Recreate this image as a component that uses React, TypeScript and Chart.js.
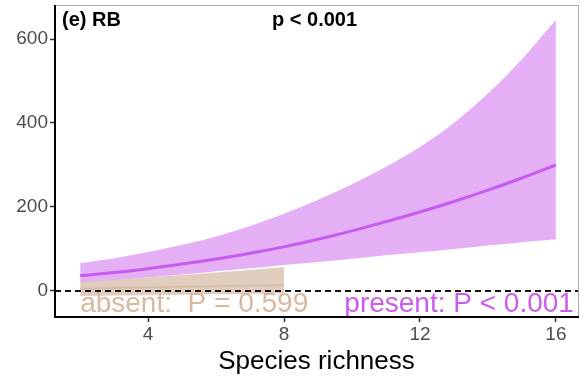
import React, { useEffect, useRef } from "react";
import { Chart, registerables } from "chart.js";
Chart.register(...registerables);

const richness = [2, 3, 4, 5, 6, 7, 8, 9, 10, 11, 12, 13, 14, 15, 16];
const presentMean = [36, 44, 53, 64, 76, 90, 105, 123, 143, 165, 188, 213, 240, 269, 300];
const presentUpper = [66, 78, 93, 110, 130, 155, 184, 217, 254, 296, 343, 400, 470, 552, 645];
const presentLower = [19, 25, 32, 39, 47, 54, 62, 69, 77, 85, 92, 100, 108, 116, 123];

const absentRichness = [2, 3, 4, 5, 6, 7, 8];
const absentMean = [5, 7, 8, 10, 11, 13, 14];
const absentUpper = [21, 26, 32, 38, 44, 50, 57];
const absentLower = [-12, -11, -10, -9, -8, -7, -6];

const xTicks = [4, 8, 12, 16];
const yTicks = [0, 200, 400, 600];

const panelLabel = "(e) RB";
const overallP = "p < 0.001";
const absentLabel = "absent:  P = 0.599";
const presentLabel = "present: P < 0.001";
const xTitle = "Species richness";

const FONT = '"Liberation Sans", Arial, sans-serif';

const PURPLE_FILL = "#E4AFF5";
const PURPLE_LINE = "#C65BEF";
const PURPLE_TEXT = "#CC5CEC";
const TAN_FILL = "#E0CDBE";
const TAN_LINE = "#D6BDA8";
const TAN_TEXT = "#D6B9A0";

const pts = (xs: number[], ys: number[]) => xs.map((x, i) => ({ x, y: ys[i] }));

const overlay = {
  id: "overlay",
  afterDatasetsDraw(chart: any) {
    const { ctx, chartArea, scales } = chart;
    const xs = scales.x;
    const ys = scales.y;
    ctx.save();
    const y0 = ys.getPixelForValue(0);
    ctx.strokeStyle = "#111";
    ctx.lineWidth = 2;
    ctx.setLineDash([6, 4]);
    ctx.beginPath();
    ctx.moveTo(chartArea.left, y0);
    ctx.lineTo(chartArea.right, y0);
    ctx.stroke();
    ctx.setLineDash([]);

    ctx.font = `28px ${FONT}`;
    ctx.textBaseline = "alphabetic";
    ctx.fillStyle = TAN_TEXT;
    ctx.textAlign = "left";
    ctx.fillText(absentLabel, xs.getPixelForValue(2), ys.getPixelForValue(-50));
    ctx.fillStyle = PURPLE_TEXT;
    ctx.textAlign = "right";
    ctx.fillText(presentLabel, xs.getPixelForValue(16.53), ys.getPixelForValue(-50));

    ctx.font = `bold 20px ${FONT}`;
    ctx.fillStyle = "#000";
    ctx.textAlign = "left";
    ctx.fillText(panelLabel, chartArea.left + 7, chartArea.top + 21);
    ctx.fillText(overallP, chartArea.left + 217, chartArea.top + 21);
    ctx.restore();
  },
  afterDraw(chart: any) {
    const { ctx, chartArea } = chart;
    ctx.save();
    ctx.strokeStyle = "#ABABAB";
    ctx.lineWidth = 1;
    ctx.beginPath();
    ctx.moveTo(chartArea.left, chartArea.top + 0.5);
    ctx.lineTo(chartArea.right + 0.5, chartArea.top + 0.5);
    ctx.lineTo(chartArea.right + 0.5, chartArea.bottom);
    ctx.stroke();
    ctx.strokeStyle = "#000";
    ctx.lineWidth = 2;
    ctx.beginPath();
    ctx.moveTo(chartArea.left, chartArea.top);
    ctx.lineTo(chartArea.left, chartArea.bottom);
    ctx.lineTo(chartArea.right + 1, chartArea.bottom);
    ctx.stroke();
    ctx.font = `26px ${FONT}`;
    ctx.fillStyle = "#000";
    ctx.textAlign = "center";
    ctx.textBaseline = "alphabetic";
    ctx.fillText(xTitle, (chartArea.left + chartArea.right) / 2, 369);
    ctx.restore();
  },
};

export default function App() {
  const ref = useRef<HTMLCanvasElement | null>(null);
  useEffect(() => {
    if (!ref.current) return;
    const chart = new Chart(ref.current, {
      type: "line",
      data: {
        datasets: [
          {
            data: pts(richness, presentMean),
            borderColor: PURPLE_LINE,
            borderWidth: 3,
            pointRadius: 0,
            fill: false,
            order: 0,
            cubicInterpolationMode: "monotone",
          },
          {
            data: pts(absentRichness, absentMean),
            borderColor: TAN_LINE,
            borderWidth: 2,
            pointRadius: 0,
            fill: false,
            order: 1,
            cubicInterpolationMode: "monotone",
          },
          {
            data: pts(absentRichness, absentLower),
            borderWidth: 0,
            borderColor: "rgba(0,0,0,0)",
            pointRadius: 0,
            fill: false,
            order: 2,
            cubicInterpolationMode: "monotone",
          },
          {
            data: pts(absentRichness, absentUpper),
            borderWidth: 0,
            borderColor: "rgba(0,0,0,0)",
            backgroundColor: TAN_FILL,
            pointRadius: 0,
            fill: 2,
            order: 2,
            cubicInterpolationMode: "monotone",
          },
          {
            data: pts(richness, presentLower),
            borderWidth: 0,
            borderColor: "rgba(0,0,0,0)",
            pointRadius: 0,
            fill: false,
            order: 3,
            cubicInterpolationMode: "monotone",
          },
          {
            data: pts(richness, presentUpper),
            borderWidth: 0,
            borderColor: "rgba(0,0,0,0)",
            backgroundColor: PURPLE_FILL,
            pointRadius: 0,
            fill: 4,
            order: 3,
            cubicInterpolationMode: "monotone",
          },
        ],
      },
      options: {
        animation: false,
        responsive: false,
        layout: { padding: { top: 5, right: 9, left: 0, bottom: 0 } },
        plugins: { legend: { display: false }, tooltip: { enabled: false } },
        scales: {
          x: {
            type: "linear",
            min: 1.26,
            max: 16.65,
            afterBuildTicks: (s: any) => {
              s.ticks = xTicks.map((v) => ({ value: v }));
            },
            afterFit: (s: any) => {
              s.height = 64;
              s.paddingLeft = 0;
              s.paddingRight = 0;
            },
            grid: { drawOnChartArea: false, drawTicks: true, tickLength: 5, tickColor: "#333", tickWidth: 1.5 },
            border: { display: false },
            ticks: {
              color: "#4D4D4D",
              font: { family: FONT, size: 19 },
              padding: 1,
              maxRotation: 0,
              autoSkip: false,
            },
          },
          y: {
            type: "linear",
            min: -62,
            max: 681,
            afterBuildTicks: (s: any) => {
              s.ticks = yTicks.map((v) => ({ value: v }));
            },
            afterFit: (s: any) => {
              s.width = 55;
              s.paddingTop = 0;
              s.paddingBottom = 0;
            },
            grid: { drawOnChartArea: false, drawTicks: true, tickLength: 5, tickColor: "#333", tickWidth: 1.5 },
            border: { display: false },
            ticks: {
              color: "#4D4D4D",
              font: { family: FONT, size: 19 },
              padding: 2,
              autoSkip: false,
            },
          },
        },
      },
      plugins: [overlay],
    } as any);
    return () => chart.destroy();
  }, []);
  return (
    <div style={{ position: "fixed", left: 0, top: 0, width: 587, height: 381, background: "#fff" }}>
      <canvas ref={ref} width={587} height={381} style={{ display: "block" }} />
    </div>
  );
}
